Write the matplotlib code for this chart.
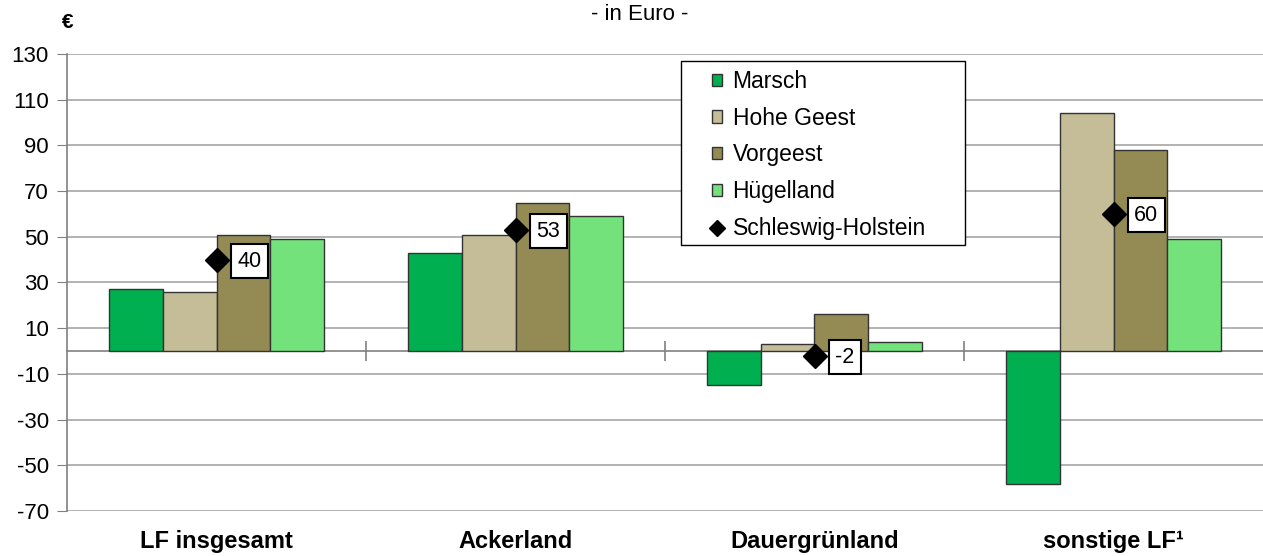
import numpy as np
import matplotlib.pyplot as plt
from matplotlib.patches import Rectangle

plt.rcParams['font.family'] = ['Liberation Sans', 'DejaVu Sans']
plt.rcParams['axes.unicode_minus'] = False

categories = ["LF insgesamt", "Ackerland", "Dauergrünland", "sonstige LF¹"]
marsch = [27, 43, -15, -58]
hohe_geest = [26, 51, 3, 104]
vorgeest = [51, 65, 16, 88]
huegelland = [49, 59, 4, 49]
schleswig_holstein = [40, 53, -2, 60]

series = [("Marsch", marsch, "#00B050"),
          ("Hohe Geest", hohe_geest, "#C4BD97"),
          ("Vorgeest", vorgeest, "#948A54"),
          ("Hügelland", huegelland, "#73E27A")]

W, H = 1263, 556
fig = plt.figure(figsize=(W / 100, H / 100), dpi=100)
ax = fig.add_axes([67 / W, 1 - 511 / H, 1 - 67 / W, (511 - 54) / H])

x = np.arange(len(categories))
w = 0.18
handles = []
for i, (name, vals, col) in enumerate(series):
    h = ax.bar(x + (i - 1.5) * w, vals, w, color=col, edgecolor="#333333",
               linewidth=1, label=name, zorder=3)
    handles.append(h)

sh, = ax.plot(x, schleswig_holstein, linestyle="none", marker="D", color="black",
              markersize=12, label="Schleswig-Holstein", zorder=5)
handles.append(sh)
for xi, v in zip(x, schleswig_holstein):
    ax.annotate(str(v), (xi, v), xytext=(15, -1), textcoords="offset points",
                ha="left", va="center", fontsize=15.5, zorder=6,
                bbox=dict(boxstyle="square,pad=0.3", fc="white", ec="black", lw=1.5))

ax.set_xlim(-0.5, 3.5)
ax.set_ylim(-70, 130)
ax.set_yticks(np.arange(-70, 131, 20))
ax.yaxis.grid(True, color="#A6A6A6", linewidth=1.2, zorder=0)
ax.set_axisbelow(True)
ax.tick_params(axis="y", labelsize=16, length=7, color="#808080", direction="out", pad=6)

ax.set_xticks(x)
ax.set_xticklabels(categories, fontsize=17, fontweight="bold")
ax.tick_params(axis="x", length=0, pad=14)

for s in ["top", "right"]:
    ax.spines[s].set_visible(False)
ax.spines["bottom"].set_visible(False)
ax.spines["left"].set_color("#808080")
ax.spines["left"].set_linewidth(1.2)

# zero line with category separators
zero = ax.secondary_xaxis(70 / 200)
zero.set_xticks(x[:-1] + 0.5)
zero.set_xticklabels([])
zero.tick_params(direction="inout", length=14, color="#808080", width=1.2)
zero.spines["bottom"].set_color("#808080")
zero.spines["bottom"].set_linewidth(1.2)

# legend box (frame drawn separately for wider side padding)
fig.patches.append(Rectangle((681 / W, 1 - 245 / H), (965 - 681) / W, (245 - 61) / H,
                             transform=fig.transFigure, fc="white", ec="black", lw=1.0,
                             zorder=4))
leg = fig.legend(handles=handles, loc="upper left", bbox_to_anchor=(712 / W, 1 - 70 / H),
                 fontsize=16.5, frameon=False,
                 handlelength=0.45, handleheight=0.45, handletextpad=0.45,
                 labelspacing=0.6, borderpad=0, borderaxespad=0)
leg.set_zorder(5)
leg.legend_handles[-1].set_markersize(8)

fig.text(640 / W, 1 - 15 / H, "- in Euro -", ha="center", va="center", fontsize=16)
fig.text(62 / W, 1 - 22 / H, "€", ha="left", va="center", fontsize=15, fontweight="bold")

fig.savefig("out.png", dpi=100, facecolor="white")
